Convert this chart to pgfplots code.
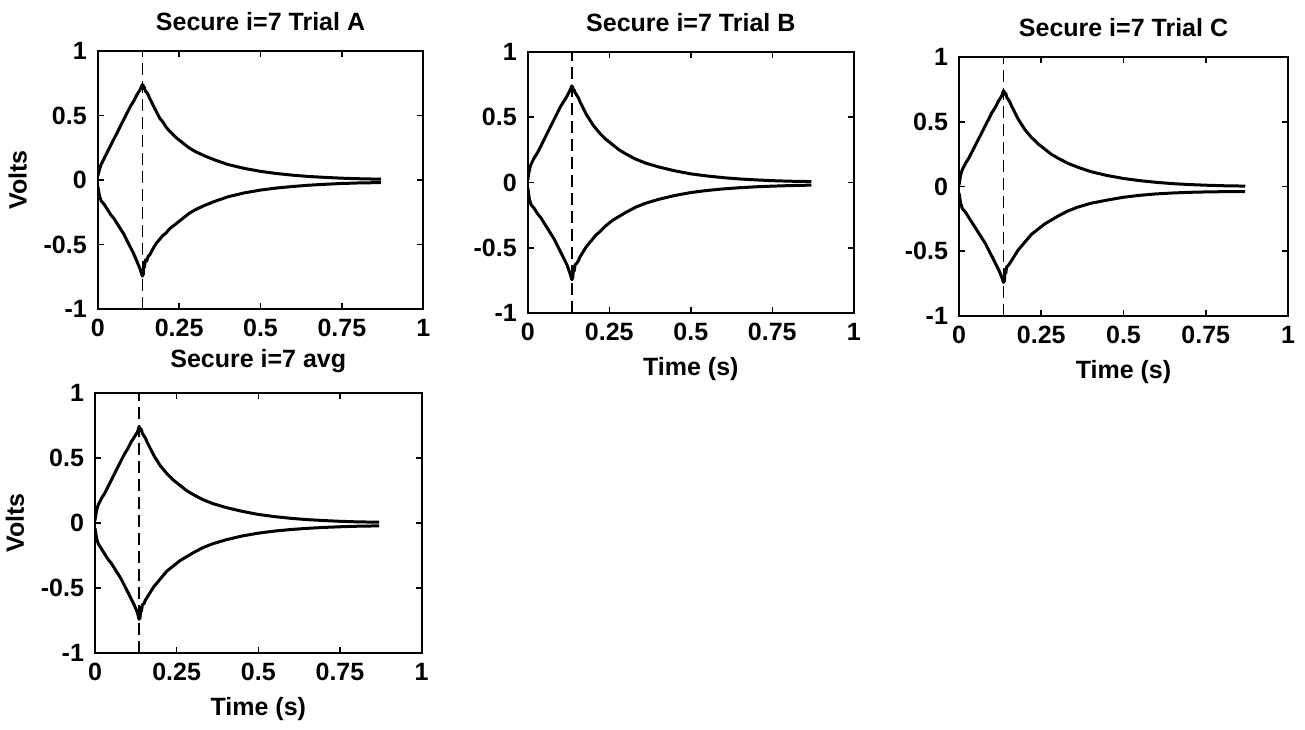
\documentclass[border=0pt]{standalone}
\usepackage{fontspec}
\setmainfont{Liberation Sans}
\usepackage{pgfplots}
\usepackage{pgfplotstable}
\pgfplotsset{compat=1.18}

\pgfplotstableread{
x up lo
0 0.03 -0.05
0.005 0.08 -0.12
0.01 0.12 -0.16
0.02 0.17 -0.19
0.03 0.22 -0.23
0.04 0.27 -0.27
0.05 0.32 -0.30
0.06 0.37 -0.34
0.07 0.42 -0.38
0.08 0.47 -0.42
0.09 0.52 -0.47
0.10 0.57 -0.52
0.11 0.61 -0.57
0.12 0.66 -0.63
0.13 0.70 -0.69
0.137 0.74 -0.745
0.140 0.73 -0.73
0.141 0.71 -0.64
0.143 0.72 -0.68
0.146 0.69 -0.62
0.150 0.68 -0.63
0.155 0.66 -0.59
0.16 0.63 -0.58
0.17 0.58 -0.53
0.18 0.53 -0.49
0.19 0.48 -0.46
0.20 0.45 -0.43
0.21 0.41 -0.41
0.22 0.38 -0.38
0.24 0.33 -0.34
0.26 0.29 -0.30
0.28 0.25 -0.26
0.30 0.22 -0.23
0.33 0.185 -0.195
0.36 0.155 -0.165
0.40 0.12 -0.13
0.45 0.09 -0.10
0.50 0.067 -0.078
0.55 0.05 -0.062
0.60 0.037 -0.05
0.65 0.027 -0.04
0.70 0.02 -0.033
0.75 0.014 -0.027
0.80 0.01 -0.023
0.87 0.006 -0.02
}\dataA

\pgfplotstableread{
x up lo
0 0.02 -0.04
0.005 0.10 -0.13
0.01 0.14 -0.17
0.02 0.19 -0.20
0.03 0.23 -0.24
0.04 0.28 -0.27
0.05 0.33 -0.31
0.06 0.38 -0.35
0.07 0.43 -0.39
0.08 0.48 -0.43
0.09 0.53 -0.48
0.10 0.58 -0.53
0.11 0.62 -0.58
0.12 0.66 -0.63
0.13 0.71 -0.70
0.135 0.74 -0.745
0.138 0.73 -0.73
0.140 0.70 -0.65
0.142 0.71 -0.68
0.145 0.69 -0.63
0.150 0.67 -0.62
0.155 0.65 -0.60
0.16 0.62 -0.57
0.17 0.57 -0.53
0.18 0.52 -0.49
0.19 0.48 -0.46
0.20 0.44 -0.43
0.21 0.41 -0.40
0.22 0.38 -0.38
0.24 0.33 -0.33
0.26 0.29 -0.29
0.28 0.25 -0.26
0.30 0.22 -0.23
0.33 0.18 -0.19
0.36 0.15 -0.16
0.40 0.12 -0.13
0.45 0.09 -0.10
0.50 0.066 -0.077
0.55 0.05 -0.061
0.60 0.037 -0.049
0.65 0.027 -0.04
0.70 0.02 -0.033
0.75 0.014 -0.028
0.80 0.01 -0.024
0.87 0.007 -0.02
}\dataB

\pgfplotstableread{
x up lo
0 0.01 -0.05
0.005 0.09 -0.13
0.01 0.13 -0.17
0.02 0.18 -0.20
0.03 0.22 -0.24
0.04 0.27 -0.28
0.05 0.32 -0.32
0.06 0.37 -0.36
0.07 0.42 -0.40
0.08 0.47 -0.44
0.09 0.52 -0.49
0.10 0.57 -0.54
0.11 0.61 -0.59
0.12 0.66 -0.64
0.13 0.70 -0.70
0.135 0.74 -0.74
0.138 0.73 -0.73
0.140 0.71 -0.64
0.142 0.72 -0.67
0.145 0.69 -0.62
0.150 0.67 -0.61
0.155 0.65 -0.59
0.16 0.62 -0.57
0.17 0.57 -0.53
0.18 0.52 -0.49
0.19 0.48 -0.46
0.20 0.44 -0.43
0.21 0.41 -0.40
0.22 0.38 -0.37
0.24 0.33 -0.33
0.26 0.29 -0.29
0.28 0.25 -0.26
0.30 0.22 -0.23
0.33 0.18 -0.19
0.36 0.15 -0.16
0.40 0.115 -0.13
0.45 0.085 -0.105
0.50 0.062 -0.083
0.55 0.045 -0.068
0.60 0.032 -0.057
0.65 0.022 -0.05
0.70 0.015 -0.045
0.75 0.01 -0.042
0.80 0.006 -0.04
0.87 0.003 -0.04
}\dataC

\pgfplotstableread{
x up lo
0 0.02 -0.04
0.005 0.10 -0.12
0.01 0.14 -0.16
0.02 0.19 -0.20
0.03 0.23 -0.24
0.04 0.28 -0.28
0.05 0.33 -0.31
0.06 0.38 -0.35
0.07 0.43 -0.39
0.08 0.48 -0.43
0.09 0.53 -0.48
0.10 0.57 -0.53
0.11 0.62 -0.58
0.12 0.66 -0.63
0.13 0.70 -0.69
0.135 0.74 -0.74
0.138 0.73 -0.73
0.140 0.71 -0.65
0.142 0.72 -0.68
0.145 0.69 -0.63
0.150 0.67 -0.62
0.155 0.65 -0.59
0.16 0.62 -0.57
0.17 0.57 -0.53
0.18 0.52 -0.49
0.19 0.48 -0.46
0.20 0.44 -0.43
0.21 0.41 -0.40
0.22 0.38 -0.37
0.24 0.33 -0.33
0.26 0.29 -0.29
0.28 0.25 -0.26
0.30 0.22 -0.23
0.33 0.18 -0.19
0.36 0.15 -0.16
0.40 0.12 -0.13
0.45 0.09 -0.10
0.50 0.066 -0.078
0.55 0.049 -0.062
0.60 0.036 -0.05
0.65 0.026 -0.041
0.70 0.019 -0.034
0.75 0.013 -0.029
0.80 0.009 -0.025
0.87 0.006 -0.022
}\dataD

\pgfplotsset{
  mypanel/.style={
    scale only axis,
    anchor=south west,
    xmin=0, xmax=1, ymin=-1, ymax=1,
    xtick={0,0.25,0.5,0.75,1},
    ytick={-1,-0.5,0,0.5,1},
    xticklabels={0,0.25,0.5,0.75,1},
    yticklabels={-1,-0.5,0,0.5,1},
    tick align=inside,
    xtick pos=both, ytick pos=both,
    major tick length=3pt,
    axis line style={line width=1pt},
    every tick/.style={line width=0.8pt, black},
    font=\bfseries\fontsize{12.5}{14}\selectfont,
    tick label style={font=\bfseries\fontsize{12.5}{14}\selectfont},
    label style={font=\bfseries\fontsize{12.5}{14}\selectfont},
    title style={font=\bfseries\fontsize{12.5}{14}\selectfont, yshift=0.5pt},
    xticklabel style={yshift=-1.5pt},
    yticklabel style={xshift=-2pt},
    ylabel style={yshift=1.5pt},
    xlabel style={yshift=-1.5pt},
    clip=true,
  },
  curve/.style={black, line width=1.5pt, line join=round},
  vline/.style={black, line width=0.7pt, dash pattern=on 6pt off 3pt},
}

\begin{document}
\begin{tikzpicture}
\useasboundingbox (0,0) rectangle (652.5pt,364.5pt);
\begin{axis}[mypanel, at={(48.9pt,210pt)}, width=162.7pt, height=129pt,
  title={Secure i=7 Trial A}, ylabel={Volts}]
\addplot[vline] coordinates {(0.138,-1) (0.138,1)};
\addplot[curve] table[x=x,y=up] {\dataA};
\addplot[curve] table[x=x,y=lo] {\dataA};
\end{axis}
\begin{axis}[mypanel, at={(263.9pt,208pt)}, width=163pt, height=130.5pt,
  title={Secure i=7 Trial B}, xlabel={Time (s)}]
\addplot[vline] coordinates {(0.135,-1) (0.135,1)};
\addplot[curve] table[x=x,y=up] {\dataB};
\addplot[curve] table[x=x,y=lo] {\dataB};
\end{axis}
\begin{axis}[mypanel, at={(479.5pt,206.5pt)}, width=164.5pt, height=129.5pt,
  title={Secure i=7 Trial C}, xlabel={Time (s)}]
\addplot[vline] coordinates {(0.135,-1) (0.135,1)};
\addplot[curve] table[x=x,y=up] {\dataC};
\addplot[curve] table[x=x,y=lo] {\dataC};
\end{axis}
\begin{axis}[mypanel, at={(47.5pt,38pt)}, width=163.3pt, height=130pt,
  title={Secure i=7 avg}, xlabel={Time (s)}, ylabel={Volts}]
\addplot[vline] coordinates {(0.135,-1) (0.135,1)};
\addplot[curve] table[x=x,y=up] {\dataD};
\addplot[curve] table[x=x,y=lo] {\dataD};
\end{axis}
\end{tikzpicture}
\end{document}
